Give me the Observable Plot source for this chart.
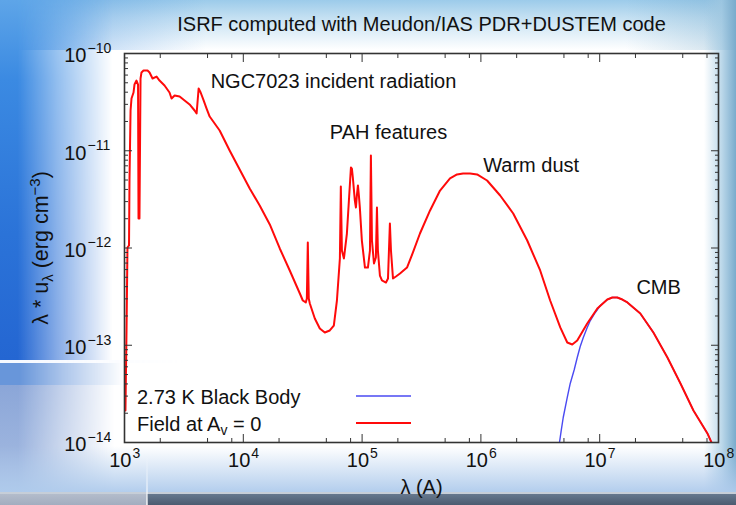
<!DOCTYPE html>
<html><head><meta charset="utf-8">
<script src="https://cdn.jsdelivr.net/npm/d3@7"></script>
<script src="https://cdn.jsdelivr.net/npm/@observablehq/plot@0.6"></script>
<style>
html,body{margin:0;padding:0;background:#fff;}
#wrap{position:relative;width:736px;height:505px;overflow:hidden;background:#fff;font-family:"Liberation Sans",Arial,Helvetica,sans-serif;}
.bg{position:absolute;}
.fade{-webkit-mask-image:linear-gradient(to right,#000 0%,#000 14%,rgba(0,0,0,.55) 45%,rgba(0,0,0,0) 88%);mask-image:linear-gradient(to right,#000 0%,#000 14%,rgba(0,0,0,.55) 45%,rgba(0,0,0,0) 88%);}
#chart{position:absolute;left:0;top:0;}
</style></head>
<body><div id="wrap">
<div class="bg" style="left:0;top:0;width:736px;height:50px;background:linear-gradient(to bottom,#9ccbea 0%,#c4e0f2 35%,rgba(255,255,255,0) 100%);"></div>
<div class="bg" style="left:0;top:0;width:736px;height:50px;background:linear-gradient(to right,rgba(70,145,225,.55) 0%,rgba(255,255,255,0) 28%,rgba(255,255,255,0) 85%,rgba(110,165,200,.35) 100%);"></div>
<div class="bg fade" style="left:0;top:0;width:128px;height:360px;background:linear-gradient(to bottom,#5ea5e8 0%,#3b8ae2 22%,#2b73d8 65%,#2466d2 100%);"></div>
<div class="bg fade" style="left:0;top:360px;width:210px;height:3px;background:rgba(245,248,255,.9);"></div>
<div class="bg fade" style="left:0;top:363px;width:140px;height:22px;background:#6896da;"></div>
<div class="bg fade" style="left:0;top:385px;width:130px;height:107px;background:linear-gradient(to bottom,#8ba6d8,#a7bde2);"></div>
<div class="bg" style="left:704px;top:0;width:32px;height:492px;background:linear-gradient(to right,rgba(255,255,255,0) 0%,rgba(160,200,225,.7) 55%,#79abcc 100%);"></div>
<div class="bg" style="left:0;top:446px;width:736px;height:46px;background:linear-gradient(to bottom,rgba(255,255,255,0) 0%,rgba(175,203,236,.95) 100%);"></div>
<div class="bg" style="left:0;top:492px;width:736px;height:2px;background:#c6ced8;"></div>
<div class="bg" style="left:0;top:494px;width:736px;height:11px;background:linear-gradient(to bottom,#66788e,#4b5b70);"></div>
<div class="bg" style="left:0;top:494px;width:147px;height:11px;background:linear-gradient(to bottom,#b3bccb,#a2adbf);"></div>
<div class="bg" style="left:146px;top:455px;width:2px;height:50px;background:linear-gradient(to bottom,rgba(255,255,255,0),rgba(255,255,255,.7));"></div>
<div id="chart"></div>
</div>
<script>
// Red curve: "Field at Av = 0" (log10 of wavelength in Å, log10 of λ·uλ in erg cm^-3)
const redLog10Lambda = [3.008,3.017,3.025,3.038,3.042,3.051,3.059,3.076,3.084,3.101,3.114,3.118,3.126,3.135,3.143,3.160,3.194,3.211,3.236,3.270,3.295,3.337,3.379,3.396,3.422,3.464,3.506,3.548,3.590,3.607,3.624,3.641,3.666,3.691,3.717,3.801,3.885,4.054,4.138,4.223,4.307,4.391,4.476,4.501,4.526,4.535,4.543,4.551,4.560,4.602,4.644,4.686,4.728,4.762,4.788,4.813,4.821,4.830,4.847,4.872,4.889,4.906,4.914,4.922,4.939,4.948,4.956,4.965,4.973,4.981,4.998,5.024,5.049,5.066,5.074,5.083,5.100,5.116,5.125,5.133,5.150,5.167,5.201,5.218,5.226,5.234,5.243,5.260,5.285,5.319,5.378,5.428,5.487,5.572,5.656,5.740,5.799,5.850,5.909,5.968,6.052,6.162,6.272,6.390,6.499,6.583,6.668,6.727,6.769,6.811,6.895,6.980,7.064,7.106,7.148,7.191,7.233,7.342,7.452,7.570,7.680,7.789,7.907,7.949];
const redLog10U = [-13.671,-12.848,-11.995,-11.974,-11.306,-10.586,-10.463,-10.401,-10.319,-10.278,-10.319,-11.697,-11.697,-10.257,-10.195,-10.175,-10.175,-10.195,-10.257,-10.237,-10.278,-10.329,-10.401,-10.463,-10.432,-10.442,-10.483,-10.524,-10.586,-10.617,-10.360,-10.401,-10.483,-10.566,-10.648,-10.792,-10.997,-11.388,-11.563,-11.758,-12.005,-12.231,-12.468,-12.540,-12.560,-12.519,-11.943,-12.519,-12.571,-12.725,-12.828,-12.869,-12.848,-12.797,-12.540,-12.108,-11.368,-12.026,-12.108,-11.851,-11.512,-11.172,-11.183,-11.275,-11.512,-11.584,-11.460,-11.357,-11.460,-11.584,-11.923,-12.201,-12.201,-12.026,-11.049,-11.923,-12.159,-12.098,-11.584,-12.026,-12.283,-12.334,-12.355,-12.314,-12.026,-11.748,-12.026,-12.314,-12.293,-12.262,-12.201,-12.046,-11.851,-11.614,-11.409,-11.285,-11.244,-11.234,-11.234,-11.244,-11.306,-11.460,-11.645,-11.923,-12.231,-12.540,-12.817,-12.972,-12.992,-12.951,-12.776,-12.622,-12.530,-12.509,-12.509,-12.530,-12.560,-12.674,-12.869,-13.126,-13.393,-13.671,-13.907,-14.021];
// Blue curve: "2.73 K Black Body"
const blueLog10Lambda = [6.659,6.676,6.693,6.727,6.752,6.786,6.811,6.836,6.862,6.895,6.921,6.963,7.005,7.064,7.106,7.148,7.191,7.233,7.342,7.452,7.570,7.680,7.789,7.907,7.949];
const blueLog10U = [-14.021,-13.877,-13.743,-13.537,-13.393,-13.249,-13.126,-13.013,-12.920,-12.817,-12.746,-12.663,-12.591,-12.530,-12.509,-12.509,-12.530,-12.560,-12.674,-12.869,-13.126,-13.393,-13.671,-13.907,-14.021];

const seriesNames = ["2.73 K Black Body", "Field at A", "v", " = 0"];
const seriesColors = ["#4a4af2", "#ff0a0a"];

const xTickValues = [1e3, 1e4, 1e5, 1e6, 1e7, 1e8];
const xTickExponents = ["3", "4", "5", "6", "7", "8"];
const xMinorTicks = [2e3,5e3,8e3,2e4,5e4,8e4,2e5,5e5,8e5,2e6,5e6,8e6,2e7,5e7,8e7];
const yTickValues = [1e-10, 1e-11, 1e-12, 1e-13, 1e-14];
const yTickExponents = ["\u221210", "\u221211", "\u221212", "\u221213", "\u221214"];
const yMinorMantissas = [2, 3, 4, 5, 6, 7, 8, 9];
const yMinorDecades = [1e-14, 1e-13, 1e-12, 1e-11];

const annotationLabels = ["NGC7023 incident radiation", "PAH features", "Warm dust", "CMB"];
const annotationLog10Lambda = [3.725, 4.728, 6.019, 7.309];
const annotationLog10U = [-10.288, -10.812, -11.152, -12.406];

const titleText = "ISRF computed with Meudon/IAS PDR+DUSTEM code";
const xLabel = "\u03bb (A)";

const red = redLog10Lambda.map((l, i) => ({lambda: 10 ** l, u: 10 ** redLog10U[i]}));
const blue = blueLog10Lambda.map((l, i) => ({lambda: 10 ** l, u: 10 ** blueLog10U[i]}));
const annotations = annotationLabels.map((t, i) => ({label: t, lambda: 10 ** annotationLog10Lambda[i], u: 10 ** annotationLog10U[i]}));
const yMinorTicks = yMinorDecades.flatMap(d => yMinorMantissas.map(m => m * d));

const ink = "#333";
const chart = Plot.plot({
  width: 736, height: 505,
  marginLeft: 124, marginRight: 18, marginTop: 53, marginBottom: 63,
  style: {background: "transparent", fontFamily: "'Liberation Sans', Arial, Helvetica, sans-serif", fontSize: "20px", color: "#111", overflow: "visible"},
  x: {type: "log", domain: [1e3, 1e8], label: null},
  y: {type: "log", domain: [1e-14, 1e-10], label: null},
  marks: [
    Plot.line(blue, {x: "lambda", y: "u", stroke: seriesColors[0], strokeWidth: 1.4, clip: true}),
    Plot.line(red, {x: "lambda", y: "u", stroke: seriesColors[1], strokeWidth: 2, clip: true, strokeLinejoin: "round"}),
    Plot.axisX({ticks: xTickValues, anchor: "bottom", tickSize: 8, dy: -8, fill: "none", label: null, stroke: ink}),
    Plot.axisX({ticks: xMinorTicks, anchor: "bottom", tickSize: 4, dy: -4, fill: "none", label: null, stroke: ink}),
    Plot.axisX({ticks: xTickValues, anchor: "top", tickSize: 8, dy: 8, fill: "none", label: null, stroke: ink}),
    Plot.axisX({ticks: xMinorTicks, anchor: "top", tickSize: 4, dy: 4, fill: "none", label: null, stroke: ink}),
    Plot.axisY({ticks: yTickValues, anchor: "left", tickSize: 8, dx: 8, fill: "none", label: null, stroke: ink}),
    Plot.axisY({ticks: yMinorTicks, anchor: "left", tickSize: 4, dx: 4, fill: "none", label: null, stroke: ink}),
    Plot.axisY({ticks: yTickValues, anchor: "right", tickSize: 8, dx: -8, fill: "none", label: null, stroke: ink}),
    Plot.axisY({ticks: yMinorTicks, anchor: "right", tickSize: 4, dx: -4, fill: "none", label: null, stroke: ink}),
    Plot.frame({stroke: ink, strokeWidth: 1.6}),
    Plot.text(xTickValues, {x: d => d, frameAnchor: "bottom", text: () => "10", textAnchor: "end", dx: 7, dy: 24, fontSize: 20}),
    Plot.text(xTickValues, {x: d => d, frameAnchor: "bottom", text: (d, i) => xTickExponents[i], textAnchor: "start", dx: 8, dy: 15, fontSize: 14}),
    Plot.text(yTickValues, {y: d => d, frameAnchor: "left", text: () => "10", textAnchor: "end", dx: -38, dy: 2.5, fontSize: 20}),
    Plot.text(yTickValues, {y: d => d, frameAnchor: "left", text: (d, i) => yTickExponents[i], textAnchor: "start", dx: -37, dy: -5, fontSize: 14}),
    Plot.text(annotations, {x: "lambda", y: "u", text: "label", textAnchor: "start", fontSize: 20}),
    Plot.text([titleText], {frameAnchor: "top", dy: -37, fontSize: 20}),
    Plot.text([xLabel], {frameAnchor: "bottom", dy: 51, fontSize: 20})
  ]
});
document.getElementById("chart").appendChild(chart);

const svg = d3.select(chart);
// y-axis label with sub/superscripts
const ylab = svg.append("text").attr("transform", "translate(48,248) rotate(-90)")
  .attr("text-anchor", "middle").attr("font-size", 21.5).attr("fill", "#111");
ylab.append("tspan").text("\u03bb * u");
ylab.append("tspan").attr("font-size", 15).attr("dy", 5).text("\u03bb");
ylab.append("tspan").attr("dy", -5).text(" (erg cm");
ylab.append("tspan").attr("font-size", 15).attr("dy", -8).text("\u22123");
ylab.append("tspan").attr("dy", 8).text(")");

// legend
const leg = svg.append("g").attr("font-size", 20).attr("fill", "#111").attr("text-anchor", "start");
leg.append("text").attr("x", 137).attr("y", 404).text(seriesNames[0]);
const t2 = leg.append("text").attr("x", 137).attr("y", 431);
t2.append("tspan").text(seriesNames[1]);
t2.append("tspan").attr("font-size", 14).attr("dy", 4).text(seriesNames[2]);
t2.append("tspan").attr("dy", -4).text(seriesNames[3]);
leg.append("line").attr("x1", 356).attr("x2", 411).attr("y1", 396).attr("y2", 396).attr("stroke", seriesColors[0]).attr("stroke-width", 1.5);
leg.append("line").attr("x1", 356).attr("x2", 411).attr("y1", 423).attr("y2", 423).attr("stroke", seriesColors[1]).attr("stroke-width", 2);
</script>
</body></html>
